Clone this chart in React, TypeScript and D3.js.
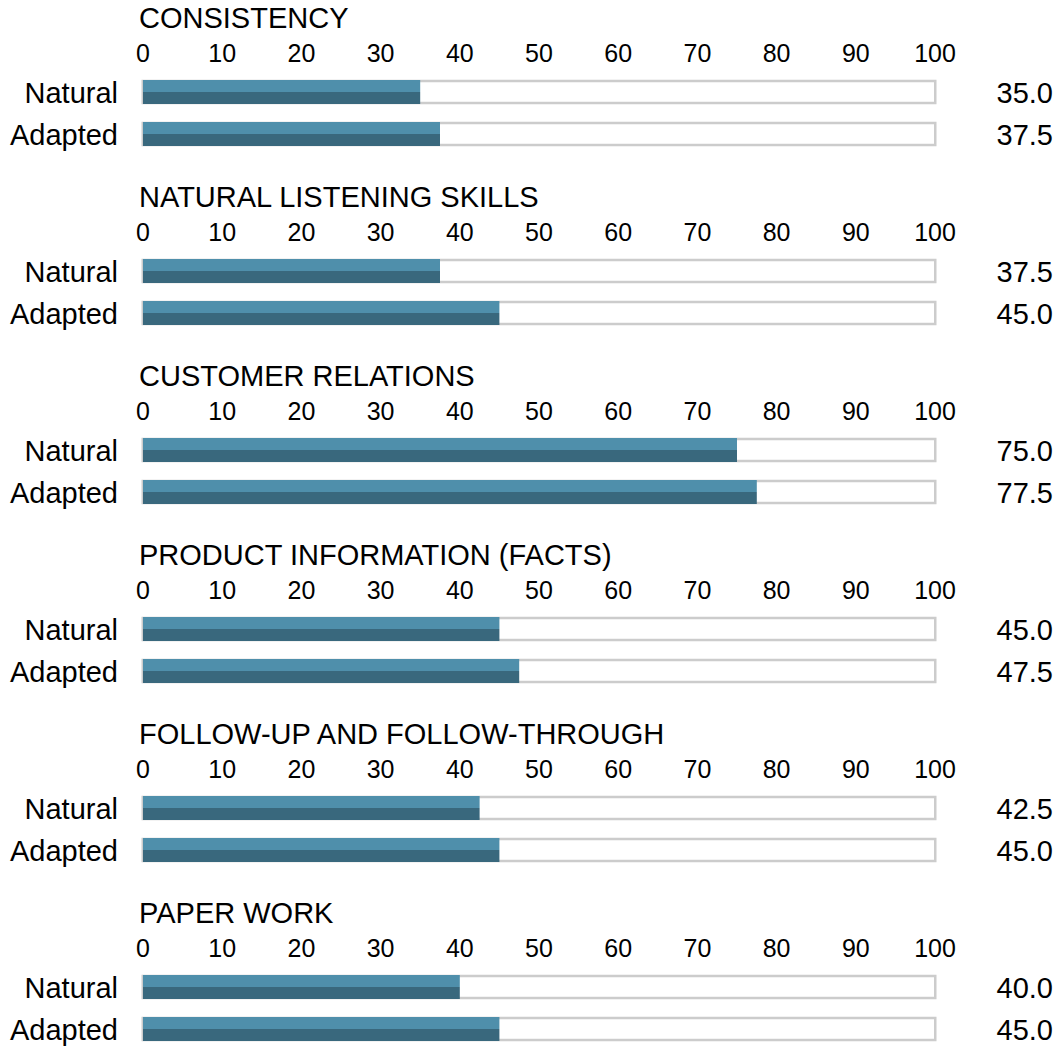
import React from "react";
import * as d3 from "d3";

const categories = [
  "CONSISTENCY",
  "NATURAL LISTENING SKILLS",
  "CUSTOMER RELATIONS",
  "PRODUCT INFORMATION (FACTS)",
  "FOLLOW-UP AND FOLLOW-THROUGH",
  "PAPER WORK",
];
const naturalValues = [35.0, 37.5, 75.0, 45.0, 42.5, 40.0];
const adaptedValues = [37.5, 45.0, 77.5, 47.5, 45.0, 45.0];
const rowLabels = ["Natural", "Adapted"];
const tickValues = [0, 10, 20, 30, 40, 50, 60, 70, 80, 90, 100];

const W = 1055;
const H = 1047;
const PANEL_H = 179;
const FONT = "Liberation Sans, Arial, Helvetica, sans-serif";
const LIGHT = "#4f8fab";
const DARK = "#39687d";
const FRAME = "#cccccc";

export default function App() {
  const x = d3.scaleLinear().domain([0, 100]).range([143, 935]);
  const barH = 24;
  const rowTop = [80, 122];

  return (
    <svg
      width={W}
      height={H}
      style={{ position: "absolute", left: 0, top: 0, background: "#fff" }}
      fontFamily={FONT}
    >
      {categories.map((cat, i) => {
        const vals = [naturalValues[i], adaptedValues[i]];
        return (
          <g key={cat} transform={`translate(0,${i * PANEL_H})`}>
            <text x={139} y={28} fontSize={29} fill="#000">
              {cat}
            </text>
            {tickValues.map((t) => (
              <text
                key={t}
                x={x(t)}
                y={62}
                fontSize={25}
                textAnchor="middle"
                fill="#000"
              >
                {t}
              </text>
            ))}
            {vals.map((v, r) => {
              const y0 = rowTop[r];
              return (
                <g key={r}>
                  <rect
                    x={x(0) - 0.25}
                    y={y0 + 1}
                    width={x(100) - x(0) + 0.5}
                    height={barH - 2}
                    fill="#fff"
                    stroke={FRAME}
                    strokeWidth={2.5}
                  />
                  <rect
                    x={x(0)}
                    y={y0}
                    width={x(v) - x(0)}
                    height={barH / 2}
                    fill={LIGHT}
                  />
                  <rect
                    x={x(0)}
                    y={y0 + barH / 2}
                    width={x(v) - x(0)}
                    height={barH / 2}
                    fill={DARK}
                  />
                  <text
                    x={118}
                    y={y0 + 23}
                    fontSize={29}
                    textAnchor="end"
                    fill="#000"
                  >
                    {rowLabels[r]}
                  </text>
                  <text
                    x={1053}
                    y={y0 + 23}
                    fontSize={29}
                    textAnchor="end"
                    fill="#000"
                  >
                    {v.toFixed(1)}
                  </text>
                </g>
              );
            })}
          </g>
        );
      })}
    </svg>
  );
}
